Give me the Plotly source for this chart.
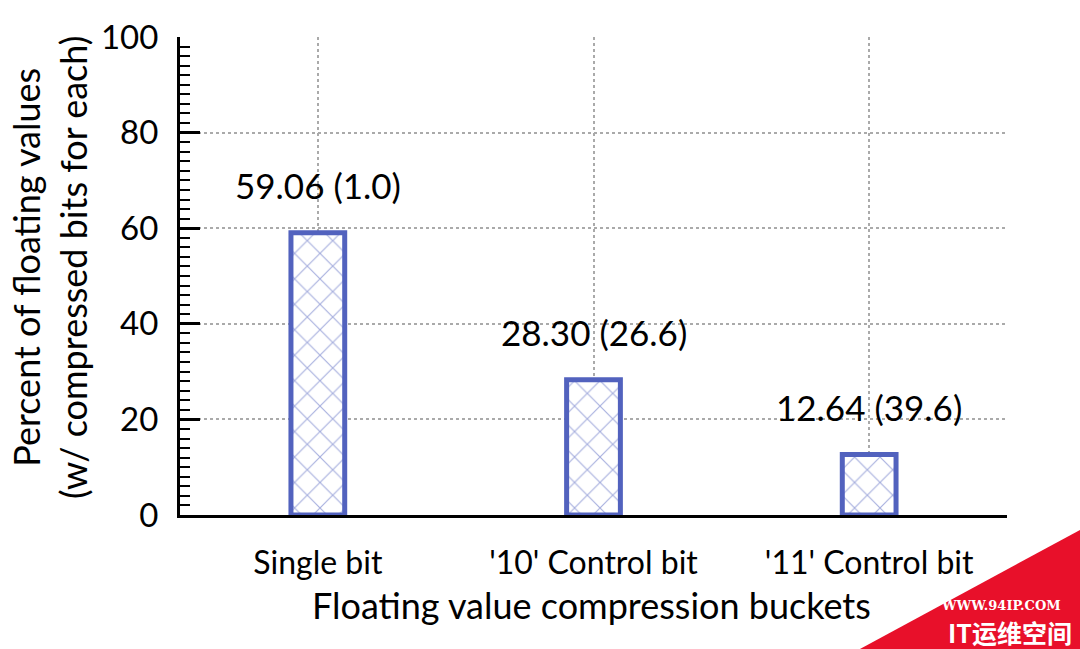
import plotly.graph_objects as go

categories = ["Single bit", "'10' Control bit", "'11' Control bit"]
percent_values = [59.06, 28.30, 12.64]
bit_labels = ["1.0", "26.6", "39.6"]
y_ticks = [0, 20, 40, 60, 80, 100]

BLUE = "#5262BE"
FONT = "Lato, 'Open Sans', sans-serif"

fig = go.Figure()
fig.add_trace(go.Bar(
    x=categories,
    y=percent_values,
    width=0.195,
    marker=dict(
        color="white",
        line=dict(color=BLUE, width=5),
        pattern=dict(shape="x", fgcolor=BLUE, bgcolor="white", size=18, solidity=0.13),
    ),
    showlegend=False,
))

for c, v, b in zip(categories, percent_values, bit_labels):
    fig.add_annotation(x=c, y=v, xref="x", yref="y", text=f"{v:.2f} ({b})",
                       showarrow=False, yanchor="middle", yshift=48,
                       font=dict(family=FONT, size=35, color="black"))

fig.update_layout(
    width=1080, height=649,
    margin=dict(l=180, r=73, t=37, b=134),
    plot_bgcolor="white", paper_bgcolor="white",
    font=dict(family=FONT, color="black"),
    xaxis=dict(
        range=[-0.5, 2.5],
        showline=True, linecolor="black", linewidth=3,
        showgrid=True, gridcolor="#AAAAAA", griddash="dot", gridwidth=2,
        ticks="", tickfont=dict(size=32, family=FONT, color="black"),
        ticklabelstandoff=18,
        zeroline=False,
    ),
    yaxis=dict(
        range=[0, 100], tickvals=y_ticks,
        showline=True, linecolor="black", linewidth=3,
        showgrid=True, gridcolor="#AAAAAA", griddash="dot", gridwidth=2,
        ticks="inside", ticklen=20, tickwidth=3, tickcolor="black",
        minor=dict(dtick=2, ticks="inside", ticklen=10, tickwidth=2, tickcolor="black", showgrid=False),
        tickfont=dict(size=33, family=FONT, color="black"),
        ticklabelstandoff=12,
        zeroline=False,
    ),
)

fig.add_annotation(xref="paper", yref="paper", x=0.4975, y=0, yshift=-90, yanchor="middle",
                   text="Floating value compression buckets", showarrow=False,
                   font=dict(family=FONT, size=36, color="black"))
fig.add_annotation(xref="paper", yref="paper", x=0, xshift=-131, y=0.5, yshift=8, xanchor="center",
                   textangle=-90, text="Percent of floating values<br>(w/ compressed bits for each)",
                   showarrow=False, font=dict(family=FONT, size=36, color="black"))

# watermark
fig.add_shape(type="path", xref="paper", yref="paper",
              path="M 1.0883,-0.2803 L 1.0883,-0.0314 L 0.8222,-0.2803 Z",
              fillcolor="#E8102A", line=dict(width=0), layer="above")
fig.add_annotation(xref="paper", yref="paper", x=1.0677, xanchor="right", y=-0.1883, yanchor="middle",
                   text="<b>WWW.94IP.COM</b>", showarrow=False,
                   font=dict(family="DejaVu Serif", size=13, color="white"))
fig.add_annotation(xref="paper", yref="paper", x=1.0810, xanchor="right", y=-0.2440, yanchor="middle",
                   text="<b>IT运维空间</b>", showarrow=False,
                   font=dict(family="Noto Sans CJK SC", size=25, color="white"))

fig.write_html("out.html")
